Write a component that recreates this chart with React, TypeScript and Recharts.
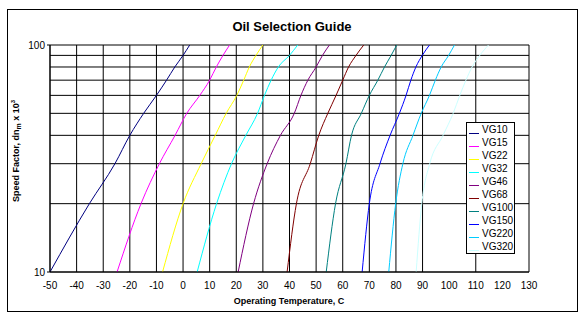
import { LineChart, Line, XAxis, YAxis, CartesianGrid, Legend, Label, ReferenceLine } from 'recharts';

const speedFactors = [10, 20, 30, 40, 50, 60, 70, 80, 90, 100];
const tempTicks = [-50, -40, -30, -20, -10, 0, 10, 20, 30, 40, 50, 60, 70, 80, 90, 100, 110, 120, 130];

// operating temperature (C) at each speed factor, one list per grade
const vg10 = [-50, -35.2, -25.6, -20, -14.8, -10, -6.2, -3.1, 0, 2.5];
const vg15 = [-24.8, -15.8, -8.9, -3, 1.4, 6.3, 10, 12.5, 15, 17.5];
const vg22 = [-7.7, 0, 6.8, 12.1, 16.2, 20.2, 22.8, 24.9, 27.4, 30];
const vg32 = [5.3, 12.6, 18.2, 23.6, 28, 30.6, 33.1, 35.8, 40, 43.1];
const vg46 = [20.7, 26.5, 31.6, 36.6, 41.8, 44.3, 46.9, 50, 52.4, 55];
const vg68 = [39.1, 42.6, 47.8, 51, 54.4, 57.5, 60, 62.2, 65, 67.9];
const vg100 = [53.8, 57.3, 61.2, 63.3, 67, 70, 73.2, 75.7, 78.2, 80.3];
const vg150 = [67.3, 70, 74, 77.8, 81.3, 83.8, 85.6, 87.5, 89.9, 92.6];
const vg220 = [77.3, 79.9, 82.6, 86.4, 89.5, 92.6, 94.8, 97, 99.8, 102];
const vg320 = [87.6, 89.7, 92.7, 97.7, 101.5, 104, 106.3, 108.6, 111.5, 114.8];

const grades = ['VG10', 'VG15', 'VG22', 'VG32', 'VG46', 'VG68', 'VG100', 'VG150', 'VG220', 'VG320'];
const temps = [vg10, vg15, vg22, vg32, vg46, vg68, vg100, vg150, vg220, vg320];
const colors = ['#000080', '#FF00FF', '#FFFF00', '#00FFFF', '#800080', '#800000', '#008080', '#0000FF', '#00CCFF', '#CCFFFF'];

const series = grades.map((name, i) => ({
  name,
  color: colors[i],
  points: temps[i].map((t, j) => ({ t, v: speedFactors[j] })),
}));

const renderLegend = () => (
  <div style={{ width: 49, height: 132, border: '1px solid #000', boxSizing: 'border-box', background: '#fff', fontFamily: 'Arial, "Liberation Sans", sans-serif', fontSize: 10 }}>
    {series.map((s) => (
      <div key={s.name} style={{ display: 'flex', alignItems: 'center', height: 13, lineHeight: '13px' }}>
        <div style={{ width: 10, height: 1, background: s.color, marginLeft: 2, marginRight: 3, marginTop: 7 }} />
        <span style={{ color: '#000' }}>{s.name}</span>
      </div>
    ))}
  </div>
);

const YTitle = () => (
  <text x={0} y={0} transform="translate(19,151) rotate(-90)" textAnchor="middle" fontSize={9} fontWeight="bold" fill="#000">
    <tspan>Speed Factor, dn</tspan>
    <tspan fontSize={7} dy={2}>m</tspan>
    <tspan dy={-2}> x 10</tspan>
    <tspan fontSize={6} dy={-4}>3</tspan>
  </text>
);

const App = () => {
  const font = 'Arial, "Liberation Sans", sans-serif';
  return (
    <div style={{ position: 'absolute', left: 0, top: 0, width: 587, height: 319, background: '#fff', fontFamily: font }}>
      <div style={{ position: 'absolute', left: 7, top: 9, width: 571, height: 303, border: '1px solid #000', boxSizing: 'border-box' }} />
      <div style={{ position: 'absolute', left: 0, width: 584, top: 19, textAlign: 'center', fontWeight: 'bold', fontSize: 13, color: '#000' }}>
        Oil Selection Guide
      </div>
      <div style={{ position: 'absolute', left: 0, width: 578, top: 296, textAlign: 'center', fontWeight: 'bold', fontSize: 9, color: '#000' }}>
        Operating Temperature, C
      </div>
      <div style={{ position: 'absolute', left: 0, top: 0 }}>
        <LineChart width={587} height={319} margin={{ top: 45, right: 58, bottom: 17, left: 0 }} style={{ fontFamily: font }}>
          <CartesianGrid stroke="#000" strokeWidth={1} horizontal={false} />
          {speedFactors.map((v) => (
            <ReferenceLine key={v} y={v} stroke="#000" strokeWidth={1} />
          ))}
          <XAxis
            dataKey="t"
            type="number"
            domain={[-50, 130]}
            ticks={tempTicks}
            allowDataOverflow
            height={30}
            axisLine={{ stroke: '#000' }}
            tickLine={false}
            tick={{ fill: '#000', fontSize: 10 }}
            tickMargin={4}
          />
          <YAxis
            dataKey="v"
            type="number"
            scale="log"
            domain={[10, 100]}
            ticks={[10, 100]}
            allowDataOverflow
            width={50}
            axisLine={{ stroke: '#000' }}
            tickLine={{ stroke: '#000' }}
            tickSize={3}
            tick={{ fill: '#000', fontSize: 10 }}
          >
            <Label content={<YTitle />} />
          </YAxis>
          <Legend
            content={renderLegend}
            layout="vertical"
            verticalAlign="middle"
            align="center"
            wrapperStyle={{ position: 'absolute', left: 466, top: 122, width: 49, height: 132 }}
          />
          {series.map((s) => (
            <Line
              key={s.name}
              data={s.points}
              dataKey="v"
              name={s.name}
              type="monotone"
              stroke={s.color}
              strokeWidth={1}
              dot={false}
              isAnimationActive={false}
            />
          ))}
        </LineChart>
      </div>
    </div>
  );
};

export default App;
